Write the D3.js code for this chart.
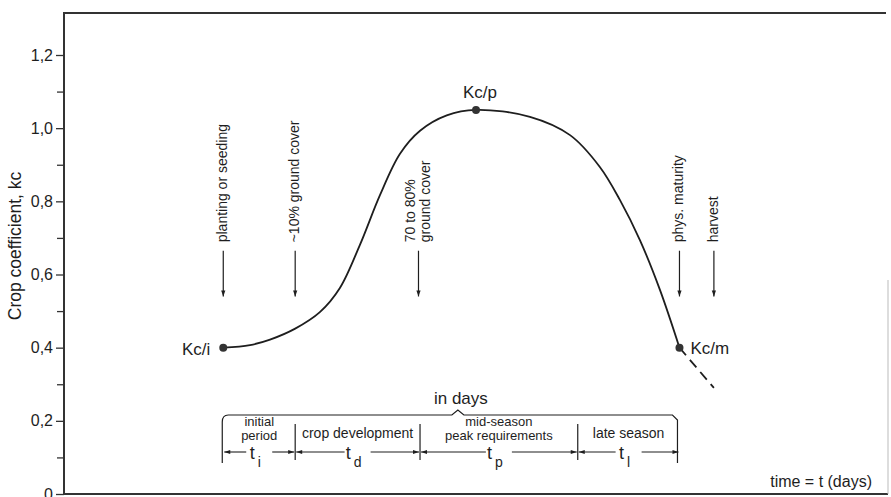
<!DOCTYPE html>
<html><head><meta charset="utf-8">
<script src="https://cdn.jsdelivr.net/npm/d3@7"></script>
<style>
body{margin:0;background:#fff}
svg{display:block}
text{font-family:"Liberation Sans",Arial,Helvetica,sans-serif;fill:#1e1e1e}
</style>
</head><body>
<svg id="c" width="891" height="497"></svg>
<script>
// ---- data ----
const curveDays = [31, 36.2, 40.1, 45, 49.8, 53.7, 57.6, 61.5, 65.4, 69.3, 74.5, 80.2, 90.7, 98.5, 104.3, 108.2, 112.1, 116, 119.8];
const curveKc   = [0.40, 0.407, 0.422, 0.452, 0.497, 0.563, 0.681, 0.817, 0.93, 0.993, 1.035, 1.05, 1.031, 0.981, 0.894, 0.804, 0.694, 0.558, 0.40];
const tailDays  = [119.8, 126.5];
const tailKc    = [0.40, 0.29];
const keyNames  = ["Kc/i", "Kc/p", "Kc/m"];
const keyDays   = [31, 80.2, 119.8];
const keyKc     = [0.40, 1.05, 0.40];
const eventDays   = [31, 45, 69, 119.8, 126.5];
const eventLabels = [["planting or seeding"], ["~10% ground cover"], ["70 to 80%", "ground cover"], ["phys. maturity"], ["harvest"]];
const stageBounds = [31, 45, 69.3, 100, 119.8];
const stageNames  = [["initial", "period"], ["crop development"], ["mid-season", "peak requirements"], ["late season"]];
const stageSubs   = ["i", "d", "p", "l"];
const yMajorTicks = [0, 0.2, 0.4, 0.6, 0.8, 1.0, 1.2];
const yMinorTicks = [0.1, 0.3, 0.5, 0.7, 0.9, 1.1];
const yTitle = "Crop coefficient, kc";
const xTitle = "time = t (days)";
const unitNote = "in days";

// ---- layout ----
const svg = d3.select("#c");
const ink = "#1e1e1e";
const x = d3.scaleLinear().domain([0, 160]).range([64, 886]);
const y = d3.scaleLinear().domain([0, 1.2]).range([494, 55]);
const yTop = 13;

// frame
svg.append("line").attr("x1", x(0)).attr("x2", 886).attr("y1", yTop).attr("y2", yTop)
  .attr("stroke", "#333").attr("stroke-width", 2);
svg.append("line").attr("x1", x(0)).attr("x2", 888).attr("y1", y(0)).attr("y2", y(0))
  .attr("stroke", "#333").attr("stroke-width", 2);
svg.append("line").attr("x1", 888).attr("x2", 888).attr("y1", 280).attr("y2", y(0))
  .attr("stroke", "#bbb").attr("stroke-width", 1);
svg.append("line").attr("x1", x(0)).attr("x2", x(0)).attr("y1", yTop - 1).attr("y2", y(0) + 1)
  .attr("stroke", "#333").attr("stroke-width", 2);

// y axis
const fmt = d => d === 0 ? "0" : d.toFixed(1).replace(".", ",");
const gMaj = svg.append("g").attr("transform", `translate(${x(0)},0)`)
  .call(d3.axisLeft(y).tickValues(yMajorTicks).tickSize(8).tickPadding(3).tickFormat(fmt));
const gMin = svg.append("g").attr("transform", `translate(${x(0)},0)`)
  .call(d3.axisLeft(y).tickValues(yMinorTicks).tickSize(7).tickFormat(""));
[gMaj, gMin].forEach(g => {
  g.select(".domain").remove();
  g.selectAll("line").attr("stroke", "#333").attr("stroke-width", 1.3);
});
gMaj.selectAll("text").attr("font-size", 16).attr("fill", ink)
  .style("font-family", '"Liberation Sans",Arial,sans-serif');

svg.append("text").attr("transform", `translate(16,246) rotate(-90)`)
  .attr("text-anchor", "middle").attr("dominant-baseline", "middle")
  .attr("font-size", 17.5).text(yTitle);

// defs: arrowheads
const defs = svg.append("defs");
defs.append("marker").attr("id", "ah").attr("viewBox", "0 0 10 10").attr("refX", 10).attr("refY", 5)
  .attr("markerUnits", "userSpaceOnUse").attr("markerWidth", 8).attr("markerHeight", 6)
  .attr("orient", "auto-start-reverse")
  .append("path").attr("d", "M0,1.5L10,5L0,8.5Z").attr("fill", ink);

// curve
const pts = curveDays.map((d, i) => [x(d), y(curveKc[i])]);
svg.append("path").attr("d", d3.line().curve(d3.curveCatmullRom.alpha(0.5))(pts))
  .attr("fill", "none").attr("stroke", ink).attr("stroke-width", 1.8);
svg.append("path").attr("d", d3.line()(tailDays.map((d, i) => [x(d), y(tailKc[i])])))
  .attr("fill", "none").attr("stroke", ink).attr("stroke-width", 1.8).attr("stroke-dasharray", "10,6");

// key points
svg.selectAll("circle.k").data(keyDays).join("circle").attr("class", "k")
  .attr("cx", d => x(d)).attr("cy", (d, i) => y(keyKc[i])).attr("r", 4).attr("fill", "#333");
const keyLab = [
  {dx: -13, dy: 7, anchor: "end"},
  {dx: 4, dy: -12, anchor: "middle"},
  {dx: 11, dy: 6, anchor: "start"}
];
svg.selectAll("text.k").data(keyNames).join("text").attr("class", "k")
  .attr("x", (d, i) => x(keyDays[i]) + keyLab[i].dx)
  .attr("y", (d, i) => y(keyKc[i]) + keyLab[i].dy)
  .attr("text-anchor", (d, i) => keyLab[i].anchor)
  .attr("font-size", 17).text(d => d);

// event arrows with vertical labels
const ev = svg.selectAll("g.ev").data(eventDays).join("g").attr("class", "ev");
ev.append("line").attr("x1", d => x(d)).attr("x2", d => x(d))
  .attr("y1", y(0.665)).attr("y2", y(0.54))
  .attr("stroke", ink).attr("stroke-width", 1.2).attr("marker-end", "url(#ah)");
ev.each(function(d, i) {
  const lines = eventLabels[i];
  const g = d3.select(this);
  lines.forEach((t, j) => {
    const off = (j - (lines.length - 1) / 2) * 15;
    g.append("text")
      .attr("transform", `translate(${x(d) + off},${y(0.688)}) rotate(-90)`)
      .attr("text-anchor", "start").attr("dominant-baseline", "middle")
      .attr("font-size", 14).text(t);
  });
});

// brace
const bx0 = x(stageBounds[0]) - 1, bx1 = x(stageBounds[stageBounds.length - 1]) - 2;
const bTop = 415, bBot = 463, bMid = (bx0 + bx1) / 2 + 8;
const bp = d3.path();
bp.moveTo(bx0, bBot);
bp.lineTo(bx0, bTop + 7);
bp.quadraticCurveTo(bx0, bTop, bx0 + 6, bTop);
bp.lineTo(bMid - 6, bTop);
bp.lineTo(bMid, bTop - 5);
bp.lineTo(bMid + 6, bTop);
bp.lineTo(bx1 - 5, bTop);
bp.lineTo(bx1, bTop + 5);
bp.lineTo(bx1, bBot);
svg.append("path").attr("d", bp.toString()).attr("fill", "none").attr("stroke", ink).attr("stroke-width", 1.2);
svg.append("text").attr("x", bMid + 3).attr("y", 404).attr("text-anchor", "middle")
  .attr("font-size", 17).text(unitNote);

// separators
stageBounds.slice(1, -1).forEach(b => {
  svg.append("line").attr("x1", x(b)).attr("x2", x(b)).attr("y1", 424).attr("y2", 460)
    .attr("stroke", ink).attr("stroke-width", 1.2);
});

// stage labels and dimension lines
const dimY = 452;
stageNames.forEach((names, i) => {
  const a = x(stageBounds[i]), b = x(stageBounds[i + 1]);
  const m = (a + b) / 2;
  if (names.length === 2) {
    svg.append("text").attr("x", m).attr("y", 426).attr("text-anchor", "middle").attr("font-size", 13).text(names[0]);
    svg.append("text").attr("x", m).attr("y", 439.5).attr("text-anchor", "middle").attr("font-size", 13).text(names[1]);
  } else {
    svg.append("text").attr("x", m).attr("y", 438).attr("text-anchor", "middle").attr("font-size", 14).text(names[0]);
  }
  svg.append("line").attr("x1", m - 13).attr("x2", a + 1).attr("y1", dimY).attr("y2", dimY)
    .attr("stroke", ink).attr("stroke-width", 1.1).attr("marker-end", "url(#ah)");
  svg.append("line").attr("x1", m + 13).attr("x2", b - 1).attr("y1", dimY).attr("y2", dimY)
    .attr("stroke", ink).attr("stroke-width", 1.1).attr("marker-end", "url(#ah)");
  const t = svg.append("text").attr("x", m - 4).attr("y", dimY + 7).attr("text-anchor", "middle").attr("font-size", 18);
  t.append("tspan").text("t");
  t.append("tspan").attr("dx", 3).attr("dy", 8).attr("font-size", 14).text(stageSubs[i]);
});

// x title
svg.append("text").attr("x", 872).attr("y", 487).attr("text-anchor", "end")
  .attr("font-size", 16).text(xTitle);
</script>
</body></html>
